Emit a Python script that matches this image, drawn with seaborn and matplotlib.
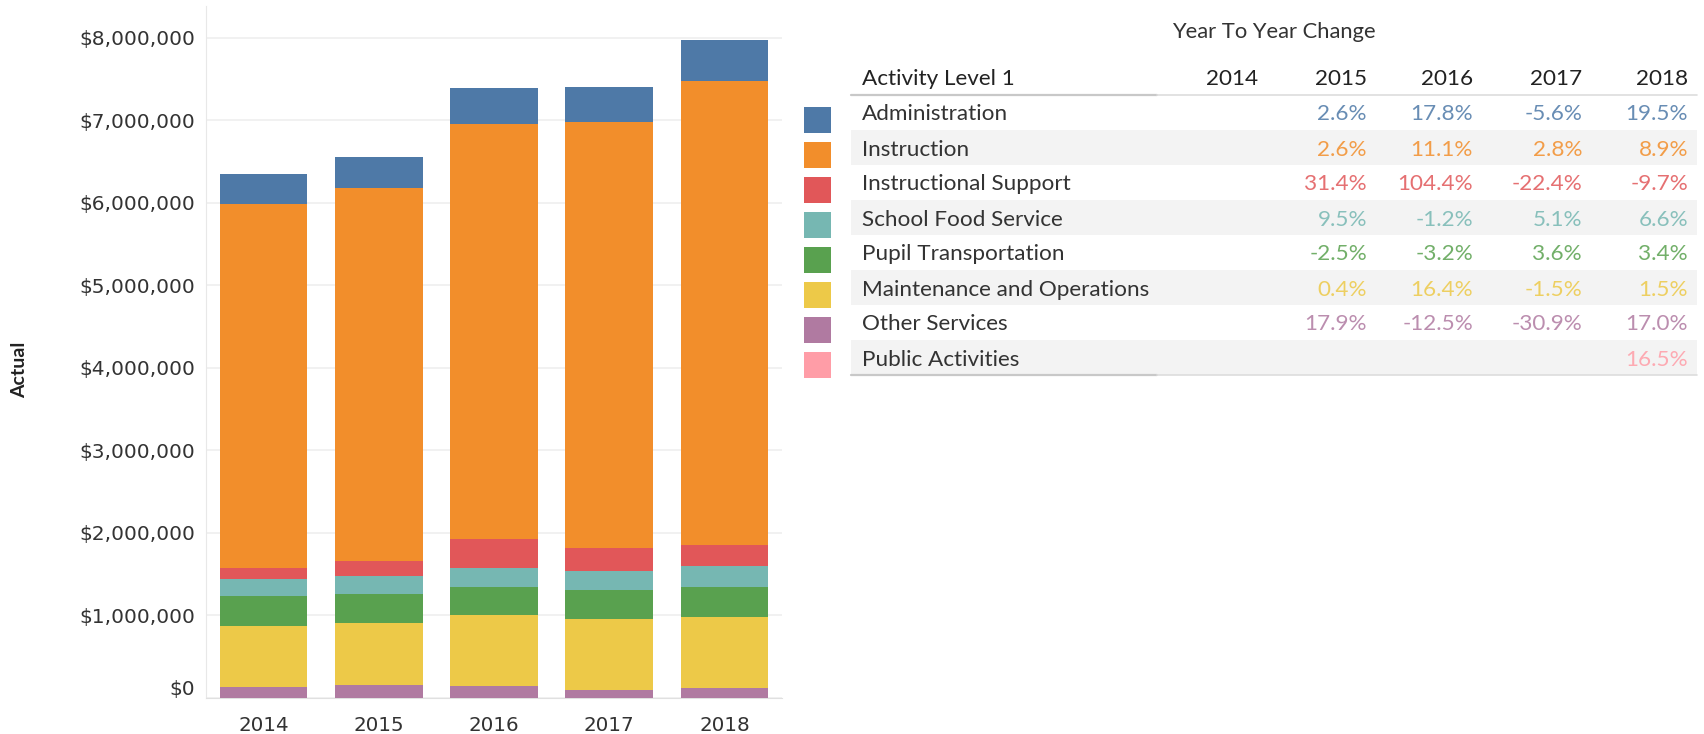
import matplotlib
matplotlib.use("Agg")
import matplotlib.pyplot as plt
import matplotlib.transforms as mtransforms
from matplotlib.patches import Rectangle
from matplotlib.ticker import FuncFormatter
import seaborn as sns
import numpy as np

# Chart data
years = ["2014", "2015", "2016", "2017", "2018"]
categories = ["Administration", "Instruction", "Instructional Support", "School Food Service",
              "Pupil Transportation", "Maintenance and Operations", "Other Services", "Public Activities"]
colors = ["#4e79a7", "#f28e2b", "#e15759", "#76b7b2", "#59a14f", "#edc948", "#b07aa1", "#ff9da7"]

administration = [364000, 373500, 440000, 415300, 496300]
instruction = [4408000, 4522600, 5024600, 5165300, 5625000]
instructional_support = [133000, 174800, 357200, 277200, 250300]
school_food_service = [206000, 225600, 222900, 234200, 249700]
pupil_transportation = [363000, 353900, 342600, 354900, 367000]
maintenance_operations = [739000, 742000, 863700, 850700, 863500]
other_services = [137000, 161500, 141300, 97700, 114300]
public_activities = [0, 0, 0, 4200, 4900]

# Year to year change table
chg_administration = ["", "2.6%", "17.8%", "-5.6%", "19.5%"]
chg_instruction = ["", "2.6%", "11.1%", "2.8%", "8.9%"]
chg_instructional_support = ["", "31.4%", "104.4%", "-22.4%", "-9.7%"]
chg_school_food_service = ["", "9.5%", "-1.2%", "5.1%", "6.6%"]
chg_pupil_transportation = ["", "-2.5%", "-3.2%", "3.6%", "3.4%"]
chg_maintenance_operations = ["", "0.4%", "16.4%", "-1.5%", "1.5%"]
chg_other_services = ["", "17.9%", "-12.5%", "-30.9%", "17.0%"]
chg_public_activities = ["", "", "", "", "16.5%"]

series = [administration, instruction, instructional_support, school_food_service,
          pupil_transportation, maintenance_operations, other_services, public_activities]
changes = [chg_administration, chg_instruction, chg_instructional_support, chg_school_food_service,
           chg_pupil_transportation, chg_maintenance_operations, chg_other_services, chg_public_activities]

sns.set_style("white")
plt.rcParams['font.family'] = ['DejaVu Sans']

W, H = 1704, 734
fig = plt.figure(figsize=(W / 100, H / 100), dpi=100)

# Full-figure axes in pixel coordinates for the table and legend
tab = fig.add_axes([0, 0, 1, 1])
tab.set_xlim(0, W)
tab.set_ylim(H, 0)
tab.axis("off")
tab.patch.set_alpha(0)

# Bar chart axes
ax = fig.add_axes([206 / W, (H - 698) / H, (782 - 206) / W, (698 - 6) / H])

# stack from the bottom: last category first
bottom = np.zeros(len(years))
for name, vals, col in reversed(list(zip(categories, series, colors))):
    sns.barplot(x=years, y=vals, bottom=bottom, color=col, width=0.76, saturation=1,
                ax=ax, zorder=3, linewidth=0)
    bottom = bottom + np.array(vals)

ax.set_ylim(0, 8384000)
ax.set_xlim(-0.5, len(years) - 0.5)
ax.set_yticks(np.arange(0, 8000001, 1000000))
ax.yaxis.set_major_formatter(FuncFormatter(lambda v, p: f"${v:,.0f}"))
ax.grid(axis="y", color="#efefef", linewidth=1.2, zorder=0)
ax.set_axisbelow(True)
for s in ["top", "right"]:
    ax.spines[s].set_visible(False)
ax.spines["left"].set_color("#e8e8e8")
ax.spines["bottom"].set_color("#e0e0e0")
ax.tick_params(axis="y", length=0, pad=8, labelsize=14.5, labelcolor="#333333")
ax.tick_params(axis="x", which="major", length=0, pad=13, labelsize=14.3, labelcolor="#333333")
ax.set_xticks(np.arange(-0.5, len(years)), minor=True)
ax.tick_params(axis="x", which="minor", length=12, color="#e0e0e0", width=1)
ax.set_xlabel("")
ax.set_ylabel("")

# Tableau keeps the $0 label inside the axis: nudge it up
zero_lbl = ax.get_yticklabels()[0]
zero_lbl.set_transform(zero_lbl.get_transform() +
                       mtransforms.ScaledTranslation(0, 10 / 100, fig.dpi_scale_trans))

fig.text(20 / W, 1 - 370 / H, "Actual", rotation=90, ha="center", va="center",
         fontsize=14, fontweight="bold", color="#222222", family=["Lato", "DejaVu Sans"])

# Table
tfont = ["Lato", "DejaVu Sans"]
fs = 16.2
row_top = 95
row_h = 35
col_right = [1258, 1367, 1473, 1582, 1688]
tab.text(1274, 32, "Year To Year Change", ha="center", va="center", fontsize=15.8,
         color="#333333", family=tfont)
tab.text(862, 79, "Activity Level 1", ha="left", va="center", fontsize=fs, color="#222222",
         family=tfont)
for yr, xr in zip(years, col_right):
    tab.text(xr, 79, yr, ha="right", va="center", fontsize=fs, color="#222222", family=tfont)

for i, (name, chg, col) in enumerate(zip(categories, changes, colors)):
    y0 = row_top + i * row_h
    if i % 2 == 1:
        tab.add_patch(Rectangle((851, y0), 1697 - 851, row_h, color="#f3f3f3", lw=0, zorder=0))
    yc = y0 + row_h / 2 + 2
    tab.text(862, yc, name, ha="left", va="center", fontsize=fs, color="#333333", family=tfont)
    for txt, xr in zip(chg, col_right):
        if txt:
            tab.text(xr, yc, txt, ha="right", va="center", fontsize=fs, color=col, alpha=0.85,
                     family=tfont)
    # legend swatch
    tab.add_patch(Rectangle((804, y0 + 12), 27, 26, color=col, lw=0))

# header and bottom rules
for yline in [row_top, row_top + len(categories) * row_h]:
    tab.plot([851, 1157], [yline, yline], color="#c8c8c8", lw=1.6)
    tab.plot([1157, 1697], [yline, yline], color="#dddddd", lw=1.2)

fig.savefig("out.png", dpi=100)
